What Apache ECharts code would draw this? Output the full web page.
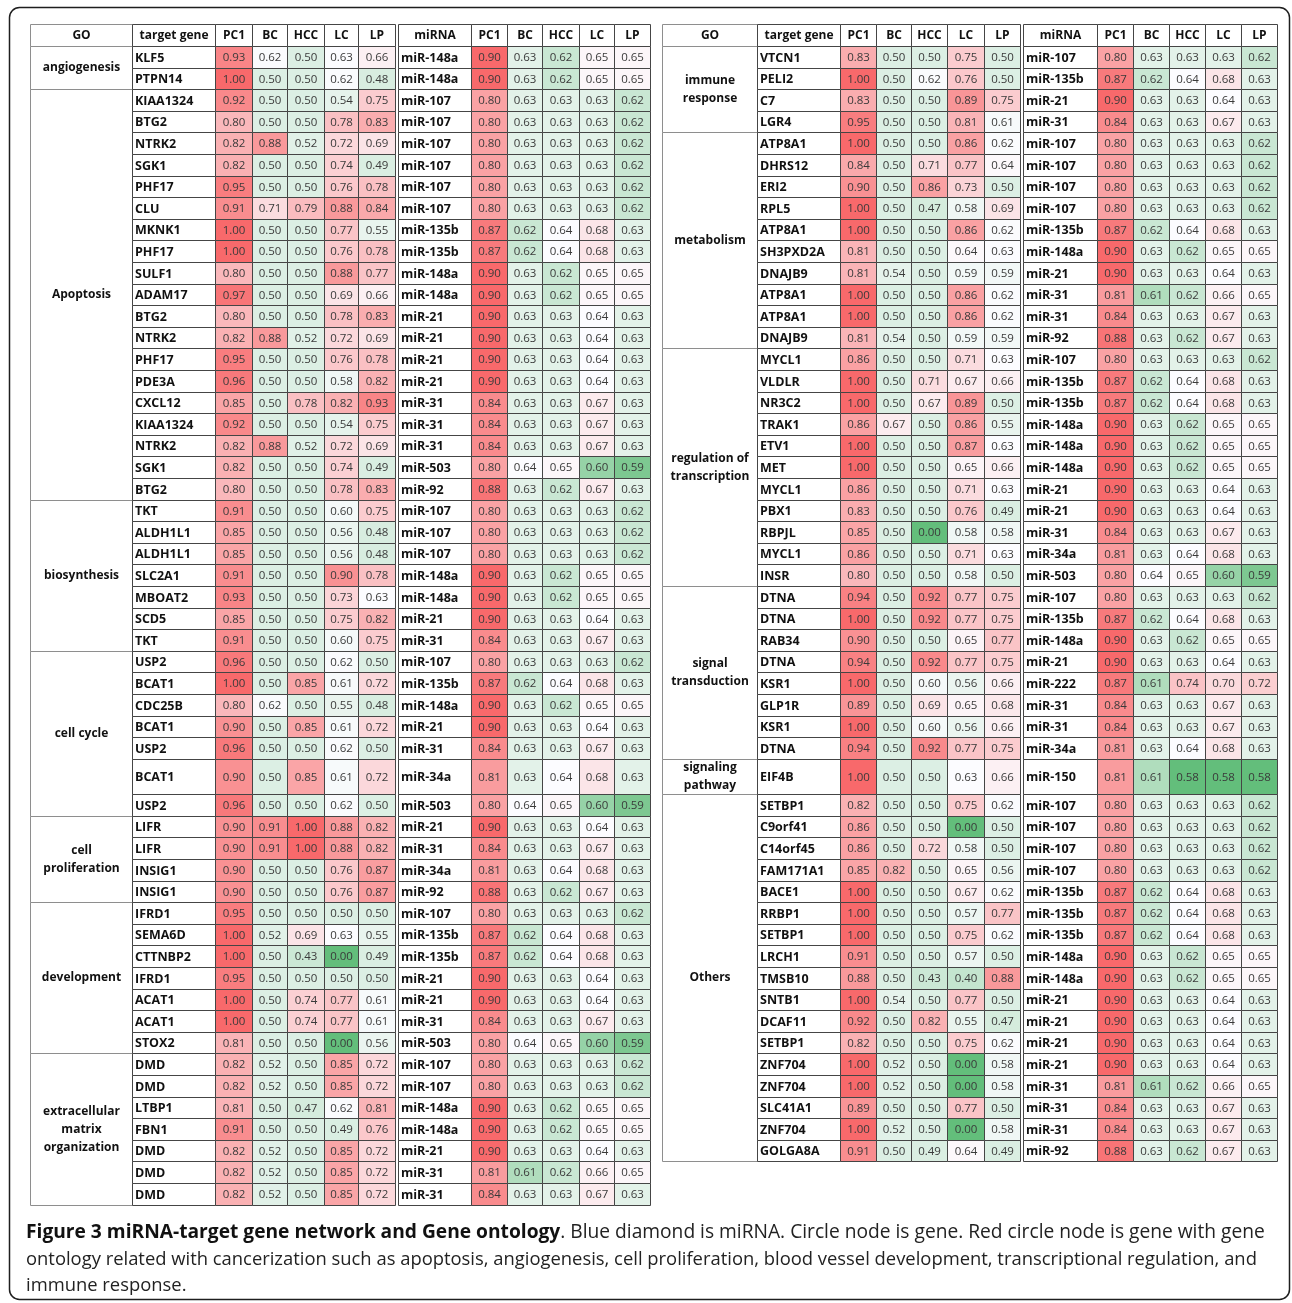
<!DOCTYPE html>
<html>
<head>
<meta charset="utf-8">
<script src="https://cdn.jsdelivr.net/npm/echarts@6/dist/echarts.min.js"></script>
<style>
html,body{margin:0;padding:0;background:#fff;}
#chart{width:1292px;height:1303px;}
</style>
</head>
<body>
<div id="chart"></div>
<script>
// ---------------- DATA ----------------
const headers = ['GO','target gene','PC1','BC','HCC','LC','LP','miRNA','PC1','BC','HCC','LC','LP'];

// Left table
const goLeft = ['angiogenesis','Apoptosis','biosynthesis','cell cycle','cell\nproliferation','development','extracellular\nmatrix\norganization'];
const goLeftCounts = [2,19,7,7,4,7,7];
const genesLeft = ['KLF5','PTPN14','KIAA1324','BTG2','NTRK2','SGK1','PHF17','CLU','MKNK1','PHF17','SULF1','ADAM17','BTG2','NTRK2','PHF17','PDE3A','CXCL12','KIAA1324','NTRK2','SGK1','BTG2',
  'TKT','ALDH1L1','ALDH1L1','SLC2A1','MBOAT2','SCD5','TKT',
  'USP2','BCAT1','CDC25B','BCAT1','USP2','BCAT1','USP2',
  'LIFR','LIFR','INSIG1','INSIG1',
  'IFRD1','SEMA6D','CTTNBP2','IFRD1','ACAT1','ACAT1','STOX2',
  'DMD','DMD','LTBP1','FBN1','DMD','DMD','DMD'];
const geneValsLeft = [
  [0.93,0.62,0.50,0.63,0.66],[1.00,0.50,0.50,0.62,0.48],
  [0.92,0.50,0.50,0.54,0.75],[0.80,0.50,0.50,0.78,0.83],[0.82,0.88,0.52,0.72,0.69],[0.82,0.50,0.50,0.74,0.49],
  [0.95,0.50,0.50,0.76,0.78],[0.91,0.71,0.79,0.88,0.84],[1.00,0.50,0.50,0.77,0.55],[1.00,0.50,0.50,0.76,0.78],
  [0.80,0.50,0.50,0.88,0.77],[0.97,0.50,0.50,0.69,0.66],[0.80,0.50,0.50,0.78,0.83],[0.82,0.88,0.52,0.72,0.69],
  [0.95,0.50,0.50,0.76,0.78],[0.96,0.50,0.50,0.58,0.82],[0.85,0.50,0.78,0.82,0.93],[0.92,0.50,0.50,0.54,0.75],
  [0.82,0.88,0.52,0.72,0.69],[0.82,0.50,0.50,0.74,0.49],[0.80,0.50,0.50,0.78,0.83],
  [0.91,0.50,0.50,0.60,0.75],[0.85,0.50,0.50,0.56,0.48],[0.85,0.50,0.50,0.56,0.48],[0.91,0.50,0.50,0.90,0.78],
  [0.93,0.50,0.50,0.73,0.63],[0.85,0.50,0.50,0.75,0.82],[0.91,0.50,0.50,0.60,0.75],
  [0.96,0.50,0.50,0.62,0.50],[1.00,0.50,0.85,0.61,0.72],[0.80,0.62,0.50,0.55,0.48],[0.90,0.50,0.85,0.61,0.72],
  [0.96,0.50,0.50,0.62,0.50],[0.90,0.50,0.85,0.61,0.72],[0.96,0.50,0.50,0.62,0.50],
  [0.90,0.91,1.00,0.88,0.82],[0.90,0.91,1.00,0.88,0.82],[0.90,0.50,0.50,0.76,0.87],[0.90,0.50,0.50,0.76,0.87],
  [0.95,0.50,0.50,0.50,0.50],[1.00,0.52,0.69,0.63,0.55],[1.00,0.50,0.43,0.00,0.49],[0.95,0.50,0.50,0.50,0.50],
  [1.00,0.50,0.74,0.77,0.61],[1.00,0.50,0.74,0.77,0.61],[0.81,0.50,0.50,0.00,0.56],
  [0.82,0.52,0.50,0.85,0.72],[0.82,0.52,0.50,0.85,0.72],[0.81,0.50,0.47,0.62,0.81],[0.91,0.50,0.50,0.49,0.76],
  [0.82,0.52,0.50,0.85,0.72],[0.82,0.52,0.50,0.85,0.72],[0.82,0.52,0.50,0.85,0.72]
];
const mirnasLeft = ['miR-148a','miR-148a','miR-107','miR-107','miR-107','miR-107','miR-107','miR-107','miR-135b','miR-135b','miR-148a','miR-148a','miR-21','miR-21','miR-21','miR-21','miR-31','miR-31','miR-31','miR-503','miR-92',
  'miR-107','miR-107','miR-107','miR-148a','miR-148a','miR-21','miR-31',
  'miR-107','miR-135b','miR-148a','miR-21','miR-31','miR-34a','miR-503',
  'miR-21','miR-31','miR-34a','miR-92',
  'miR-107','miR-135b','miR-135b','miR-21','miR-21','miR-31','miR-503',
  'miR-107','miR-107','miR-148a','miR-148a','miR-21','miR-31','miR-31'];
const mirnaValsLeft = [
  [0.90,0.63,0.62,0.65,0.65],[0.90,0.63,0.62,0.65,0.65],
  [0.80,0.63,0.63,0.63,0.62],[0.80,0.63,0.63,0.63,0.62],[0.80,0.63,0.63,0.63,0.62],[0.80,0.63,0.63,0.63,0.62],
  [0.80,0.63,0.63,0.63,0.62],[0.80,0.63,0.63,0.63,0.62],[0.87,0.62,0.64,0.68,0.63],[0.87,0.62,0.64,0.68,0.63],
  [0.90,0.63,0.62,0.65,0.65],[0.90,0.63,0.62,0.65,0.65],[0.90,0.63,0.63,0.64,0.63],[0.90,0.63,0.63,0.64,0.63],
  [0.90,0.63,0.63,0.64,0.63],[0.90,0.63,0.63,0.64,0.63],[0.84,0.63,0.63,0.67,0.63],[0.84,0.63,0.63,0.67,0.63],
  [0.84,0.63,0.63,0.67,0.63],[0.80,0.64,0.65,0.60,0.59],[0.88,0.63,0.62,0.67,0.63],
  [0.80,0.63,0.63,0.63,0.62],[0.80,0.63,0.63,0.63,0.62],[0.80,0.63,0.63,0.63,0.62],[0.90,0.63,0.62,0.65,0.65],
  [0.90,0.63,0.62,0.65,0.65],[0.90,0.63,0.63,0.64,0.63],[0.84,0.63,0.63,0.67,0.63],
  [0.80,0.63,0.63,0.63,0.62],[0.87,0.62,0.64,0.68,0.63],[0.90,0.63,0.62,0.65,0.65],[0.90,0.63,0.63,0.64,0.63],
  [0.84,0.63,0.63,0.67,0.63],[0.81,0.63,0.64,0.68,0.63],[0.80,0.64,0.65,0.60,0.59],
  [0.90,0.63,0.63,0.64,0.63],[0.84,0.63,0.63,0.67,0.63],[0.81,0.63,0.64,0.68,0.63],[0.88,0.63,0.62,0.67,0.63],
  [0.80,0.63,0.63,0.63,0.62],[0.87,0.62,0.64,0.68,0.63],[0.87,0.62,0.64,0.68,0.63],[0.90,0.63,0.63,0.64,0.63],
  [0.90,0.63,0.63,0.64,0.63],[0.84,0.63,0.63,0.67,0.63],[0.80,0.64,0.65,0.60,0.59],
  [0.80,0.63,0.63,0.63,0.62],[0.80,0.63,0.63,0.63,0.62],[0.90,0.63,0.62,0.65,0.65],[0.90,0.63,0.62,0.65,0.65],
  [0.90,0.63,0.63,0.64,0.63],[0.81,0.61,0.62,0.66,0.65],[0.84,0.63,0.63,0.67,0.63]
];

// Right table
const goRight = ['immune\nresponse','metabolism','regulation of\ntranscription','signal\ntransduction','signaling\npathway','Others'];
const goRightCounts = [4,10,11,8,1,17];
const genesRight = ['VTCN1','PELI2','C7','LGR4',
  'ATP8A1','DHRS12','ERI2','RPL5','ATP8A1','SH3PXD2A','DNAJB9','ATP8A1','ATP8A1','DNAJB9',
  'MYCL1','VLDLR','NR3C2','TRAK1','ETV1','MET','MYCL1','PBX1','RBPJL','MYCL1','INSR',
  'DTNA','DTNA','RAB34','DTNA','KSR1','GLP1R','KSR1','DTNA',
  'EIF4B',
  'SETBP1','C9orf41','C14orf45','FAM171A1','BACE1','RRBP1','SETBP1','LRCH1','TMSB10','SNTB1','DCAF11','SETBP1','ZNF704','ZNF704','SLC41A1','ZNF704','GOLGA8A'];
const geneValsRight = [
  [0.83,0.50,0.50,0.75,0.50],[1.00,0.50,0.62,0.76,0.50],[0.83,0.50,0.50,0.89,0.75],[0.95,0.50,0.50,0.81,0.61],
  [1.00,0.50,0.50,0.86,0.62],[0.84,0.50,0.71,0.77,0.64],[0.90,0.50,0.86,0.73,0.50],[1.00,0.50,0.47,0.58,0.69],
  [1.00,0.50,0.50,0.86,0.62],[0.81,0.50,0.50,0.64,0.63],[0.81,0.54,0.50,0.59,0.59],[1.00,0.50,0.50,0.86,0.62],
  [1.00,0.50,0.50,0.86,0.62],[0.81,0.54,0.50,0.59,0.59],
  [0.86,0.50,0.50,0.71,0.63],[1.00,0.50,0.71,0.67,0.66],[1.00,0.50,0.67,0.89,0.50],[0.86,0.67,0.50,0.86,0.55],
  [1.00,0.50,0.50,0.87,0.63],[1.00,0.50,0.50,0.65,0.66],[0.86,0.50,0.50,0.71,0.63],[0.83,0.50,0.50,0.76,0.49],
  [0.85,0.50,0.00,0.58,0.58],[0.86,0.50,0.50,0.71,0.63],[0.80,0.50,0.50,0.58,0.50],
  [0.94,0.50,0.92,0.77,0.75],[1.00,0.50,0.92,0.77,0.75],[0.90,0.50,0.50,0.65,0.77],[0.94,0.50,0.92,0.77,0.75],
  [1.00,0.50,0.60,0.56,0.66],[0.89,0.50,0.69,0.65,0.68],[1.00,0.50,0.60,0.56,0.66],[0.94,0.50,0.92,0.77,0.75],
  [1.00,0.50,0.50,0.63,0.66],
  [0.82,0.50,0.50,0.75,0.62],[0.86,0.50,0.50,0.00,0.50],[0.86,0.50,0.72,0.58,0.50],[0.85,0.82,0.50,0.65,0.56],
  [1.00,0.50,0.50,0.67,0.62],[1.00,0.50,0.50,0.57,0.77],[1.00,0.50,0.50,0.75,0.62],[0.91,0.50,0.50,0.57,0.50],
  [0.88,0.50,0.43,0.40,0.88],[1.00,0.54,0.50,0.77,0.50],[0.92,0.50,0.82,0.55,0.47],[0.82,0.50,0.50,0.75,0.62],
  [1.00,0.52,0.50,0.00,0.58],[1.00,0.52,0.50,0.00,0.58],[0.89,0.50,0.50,0.77,0.50],[1.00,0.52,0.50,0.00,0.58],
  [0.91,0.50,0.49,0.64,0.49]
];
const mirnasRight = ['miR-107','miR-135b','miR-21','miR-31',
  'miR-107','miR-107','miR-107','miR-107','miR-135b','miR-148a','miR-21','miR-31','miR-31','miR-92',
  'miR-107','miR-135b','miR-135b','miR-148a','miR-148a','miR-148a','miR-21','miR-21','miR-31','miR-34a','miR-503',
  'miR-107','miR-135b','miR-148a','miR-21','miR-222','miR-31','miR-31','miR-34a',
  'miR-150',
  'miR-107','miR-107','miR-107','miR-107','miR-135b','miR-135b','miR-135b','miR-148a','miR-148a','miR-21','miR-21','miR-21','miR-21','miR-31','miR-31','miR-31','miR-92'];
const mirnaValsRight = [
  [0.80,0.63,0.63,0.63,0.62],[0.87,0.62,0.64,0.68,0.63],[0.90,0.63,0.63,0.64,0.63],[0.84,0.63,0.63,0.67,0.63],
  [0.80,0.63,0.63,0.63,0.62],[0.80,0.63,0.63,0.63,0.62],[0.80,0.63,0.63,0.63,0.62],[0.80,0.63,0.63,0.63,0.62],
  [0.87,0.62,0.64,0.68,0.63],[0.90,0.63,0.62,0.65,0.65],[0.90,0.63,0.63,0.64,0.63],[0.81,0.61,0.62,0.66,0.65],
  [0.84,0.63,0.63,0.67,0.63],[0.88,0.63,0.62,0.67,0.63],
  [0.80,0.63,0.63,0.63,0.62],[0.87,0.62,0.64,0.68,0.63],[0.87,0.62,0.64,0.68,0.63],[0.90,0.63,0.62,0.65,0.65],
  [0.90,0.63,0.62,0.65,0.65],[0.90,0.63,0.62,0.65,0.65],[0.90,0.63,0.63,0.64,0.63],[0.90,0.63,0.63,0.64,0.63],
  [0.84,0.63,0.63,0.67,0.63],[0.81,0.63,0.64,0.68,0.63],[0.80,0.64,0.65,0.60,0.59],
  [0.80,0.63,0.63,0.63,0.62],[0.87,0.62,0.64,0.68,0.63],[0.90,0.63,0.62,0.65,0.65],[0.90,0.63,0.63,0.64,0.63],
  [0.87,0.61,0.74,0.70,0.72],[0.84,0.63,0.63,0.67,0.63],[0.84,0.63,0.63,0.67,0.63],[0.81,0.63,0.64,0.68,0.63],
  [0.81,0.61,0.58,0.58,0.58],
  [0.80,0.63,0.63,0.63,0.62],[0.80,0.63,0.63,0.63,0.62],[0.80,0.63,0.63,0.63,0.62],[0.80,0.63,0.63,0.63,0.62],
  [0.87,0.62,0.64,0.68,0.63],[0.87,0.62,0.64,0.68,0.63],[0.87,0.62,0.64,0.68,0.63],[0.90,0.63,0.62,0.65,0.65],
  [0.90,0.63,0.62,0.65,0.65],[0.90,0.63,0.63,0.64,0.63],[0.90,0.63,0.63,0.64,0.63],[0.90,0.63,0.63,0.64,0.63],
  [0.90,0.63,0.63,0.64,0.63],[0.81,0.61,0.62,0.66,0.65],[0.84,0.63,0.63,0.67,0.63],[0.84,0.63,0.63,0.67,0.63],
  [0.88,0.63,0.62,0.67,0.63]
];

const captionBold = 'Figure 3 miRNA-target gene network and Gene ontology';
const captionLines = [
  '. Blue diamond is miRNA. Circle node is gene. Red circle node is gene with gene',
  'ontology related with cancerization such as apoptosis, angiogenesis, cell proliferation, blood vessel development, transcriptional regulation, and',
  'immune response.'
];

// ---------------- STYLE / LAYOUT ----------------
const ROW_PX = 21.6;
const HEADER_H = 1.02;
const TALL_ROW = 33;
const TALL_H = 1.64;
const GAP_AFTER = 6;    // double line after this column
const GAP_W = 3;
const widthsLeft = [102,83,37,35,37,34,37,73,36,35,37,35,36];
const widthsRight = [95,83,36,35,36,37,36,74,36,36,36,36,36];
const FONT = "'Open Sans', 'Noto Sans', sans-serif";
const DARK = '#454545';
const LIGHT = '#8e8e8e';
const GREEN = [99,190,123], WHITE = [252,252,255], RED = [248,105,107];
const geneScale = {min:0.0, mid:0.63, max:1.0};
const mirnaScale = {min:0.58, mid:0.64, max:0.90};

function mix(a, b, t) {
  t = Math.max(0, Math.min(1, t));
  return 'rgb(' + a.map((v, i) => Math.round(v + (b[i] - v) * t)).join(',') + ')';
}
function scaleColor(v, s) {
  if (v <= s.mid) return mix(GREEN, WHITE, (v - s.min) / (s.mid - s.min));
  return mix(WHITE, RED, (v - s.mid) / (s.max - s.mid));
}
function colEdges(widths) {
  const e = []; let x = 0;
  widths.forEach((w, i) => { e.push([x, x + w]); x += w; if (i === GAP_AFTER) x += GAP_W; });
  return {edges: e, total: x};
}
function rowTop(r) { return HEADER_H + r + (r > TALL_ROW ? TALL_H - 1 : 0); }
function rowBot(r) { return rowTop(r) + (r === TALL_ROW ? TALL_H : 1); }

function buildCells(goNames, goCounts, genes, geneVals, mirnas, mirnaVals, widths) {
  const {edges, total} = colEdges(widths);
  const cells = [];
  cells.push({kind:'gohead', c:0, y0:0, y1:HEADER_H, text:headers[0]});
  let start = 0;
  goNames.forEach((g, i) => {
    const n = goCounts[i];
    cells.push({kind:'go', c:0, y0:rowTop(start), y1:rowBot(start + n - 1), text:g});
    start += n;
  });
  for (let c = 1; c < headers.length; c++) cells.push({kind:'head', c, y0:0, y1:HEADER_H, text:headers[c]});
  genes.forEach((g, r) => {
    const y0 = rowTop(r), y1 = rowBot(r);
    cells.push({kind:'name', c:1, y0, y1, text:g});
    geneVals[r].forEach((v, k) => cells.push({kind:'num', c:2 + k, y0, y1, text:v.toFixed(2), fill:scaleColor(v, geneScale)}));
    cells.push({kind:'name', c:7, y0, y1, text:mirnas[r]});
    mirnaVals[r].forEach((v, k) => cells.push({kind:'num', c:8 + k, y0, y1, text:v.toFixed(2), fill:scaleColor(v, mirnaScale)}));
  });
  cells.forEach(cl => { cl.x0 = edges[cl.c][0]; cl.x1 = edges[cl.c][1]; });
  const totalH = rowBot(genes.length - 1);
  return {cells, totalW: total, totalH};
}

const L = buildCells(goLeft, goLeftCounts, genesLeft, geneValsLeft, mirnasLeft, mirnaValsLeft, widthsLeft);
const R = buildCells(goRight, goRightCounts, genesRight, geneValsRight, mirnasRight, mirnaValsRight, widthsRight);

function makeRender(cells) {
  return function (params, api) {
    const cl = cells[params.dataIndex];
    const p0 = api.coord([api.value(0), api.value(1)]);
    const p1 = api.coord([api.value(2), api.value(3)]);
    const x0 = Math.round(p0[0]) + 0.5, x1 = Math.round(p1[0]) + 0.5;
    const y0 = Math.round(p0[1]) + 0.5, y1 = Math.round(p1[1]) + 0.5;
    const isGo = cl.kind === 'go' || cl.kind === 'gohead';
    const rect = {type:'rect', shape:{x:x0, y:y0, width:x1 - x0, height:y1 - y0},
      style:{fill: cl.fill || '#fff', stroke: isGo ? LIGHT : DARK, lineWidth: 1}};
    let ts;
    const cy = (y0 + y1) / 2;
    if (cl.kind === 'num') {
      ts = {text:cl.text, x:(x0 + x1) / 2, y:cy + 0.5, align:'center', verticalAlign:'middle',
        fill:'#3a3a3a', fontSize:11.5, fontFamily:FONT};
    } else if (cl.kind === 'name') {
      ts = {text:cl.text, x:x0 + 2.5, y:cy + 0.5, align:'left', verticalAlign:'middle',
        fill:'#111', fontSize:12.5, fontWeight:'bold', fontFamily:FONT};
    } else if (cl.kind === 'head' || cl.kind === 'gohead') {
      ts = {text:cl.text, x:(x0 + x1) / 2, y:cy + 0.5, align:'center', verticalAlign:'middle',
        fill:'#111', fontSize:12, fontWeight:'bold', fontFamily:FONT};
    } else {
      ts = {text:cl.text, x:(x0 + x1) / 2, y:cy, align:'center', verticalAlign:'middle',
        fill:'#111', fontSize:12, fontWeight:'bold', fontFamily:FONT, lineHeight:18};
    }
    return {type:'group', children:[rect, {type:'text', style:ts}]};
  };
}

const GRID_L = {left:30, top:24};
const GRID_R = {left:662, top:24};

const chart = echarts.init(document.getElementById('chart'), null, {renderer:'canvas'});
chart.setOption({
  animation:false,
  backgroundColor:'#ffffff',
  grid:[
    {left:GRID_L.left, top:GRID_L.top, width:L.totalW, height:L.totalH * ROW_PX},
    {left:GRID_R.left, top:GRID_R.top, width:R.totalW, height:R.totalH * ROW_PX}
  ],
  xAxis:[
    {gridIndex:0, type:'value', min:0, max:L.totalW, show:false},
    {gridIndex:1, type:'value', min:0, max:R.totalW, show:false}
  ],
  yAxis:[
    {gridIndex:0, type:'value', min:0, max:L.totalH, inverse:true, show:false},
    {gridIndex:1, type:'value', min:0, max:R.totalH, inverse:true, show:false}
  ],
  series:[
    {type:'custom', xAxisIndex:0, yAxisIndex:0, silent:true, clip:false,
      renderItem:makeRender(L.cells), encode:{x:[0,2], y:[1,3]},
      data:L.cells.map(c => [c.x0, c.y0, c.x1, c.y1])},
    {type:'custom', xAxisIndex:1, yAxisIndex:1, silent:true, clip:false,
      renderItem:makeRender(R.cells), encode:{x:[0,2], y:[1,3]},
      data:R.cells.map(c => [c.x0, c.y0, c.x1, c.y1])}
  ],
  graphic:[
    {type:'rect', silent:true, shape:{x:9.5, y:7.5, width:1280, height:1292, r:10},
      style:{fill:'none', stroke:'#1e1e1e', lineWidth:1.5}},
    {type:'text', silent:true, x:26, y:1233,
      style:{text:'{b|' + captionBold + '}{n|' + captionLines[0] + '}', verticalAlign:'middle',
        rich:{b:{fontFamily:FONT, fontSize:19.2, fontWeight:'bold', fill:'#111'},
              n:{fontFamily:FONT, fontSize:19.2, fill:'#222'}}}},
    {type:'text', silent:true, x:26, y:1260,
      style:{text:captionLines[1], verticalAlign:'middle', fontFamily:FONT, fontSize:18.4, fill:'#222'}},
    {type:'text', silent:true, x:26, y:1286,
      style:{text:captionLines[2], verticalAlign:'middle', fontFamily:FONT, fontSize:18.4, fill:'#222'}}
  ]
});
</script>
</body>
</html>
